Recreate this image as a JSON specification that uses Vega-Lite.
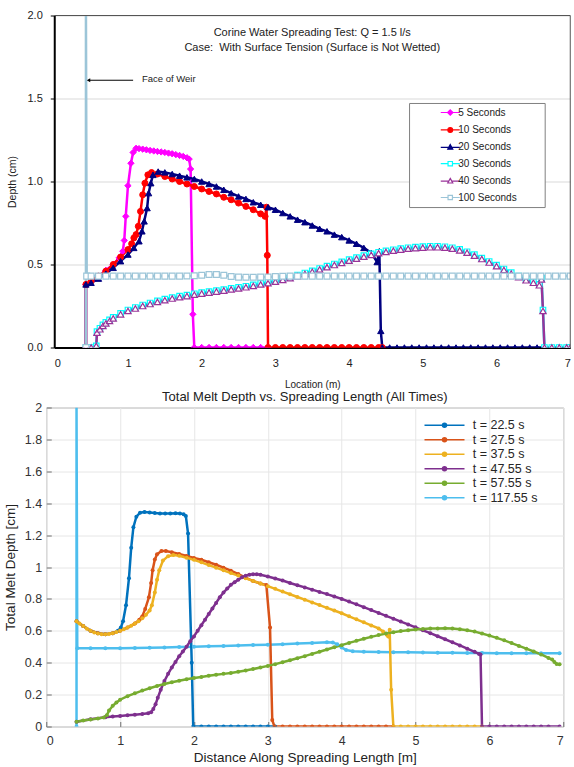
{
"$schema": "https://vega.github.io/schema/vega-lite/v6.json",
"background": "white",
"padding": {"left": 3.25, "top": 9.5, "right": 0, "bottom": 0},
"config": {"font": "Liberation Sans", "view": {"stroke": null}, "axis": {"labelFont": "Liberation Sans", "titleFont": "Liberation Sans", "titleFontWeight": "normal", "labelOverlap": false}, "title": {"font": "Liberation Sans", "fontWeight": "normal"}, "legend": {"labelFont": "Liberation Sans", "titleFont": "Liberation Sans"}},
"columns": 1,
"spacing": 0,
"resolve": {"scale": {"x": "independent", "y": "independent", "stroke": "independent", "fill": "independent", "shape": "independent"}, "legend": {"stroke": "independent", "fill": "independent", "shape": "independent"}},
"datasets": {
"top": [
{"s":"5 Seconds","x":0.43,"y":0},{"s":"5 Seconds","x":0.43,"y":0.38},{"s":"5 Seconds","x":0.5,"y":0.4},{"s":"5 Seconds","x":0.6,"y":0.43},{"s":"5 Seconds","x":0.7,"y":0.465},{"s":"5 Seconds","x":0.8,"y":0.5},{"s":"5 Seconds","x":0.88,"y":0.54},{"s":"5 Seconds","x":0.93,"y":0.58},{"s":"5 Seconds","x":0.95,"y":0.645},{"s":"5 Seconds","x":0.97,"y":0.79},{"s":"5 Seconds","x":1.0,"y":0.975},{"s":"5 Seconds","x":1.04,"y":1.11},{"s":"5 Seconds","x":1.07,"y":1.175},{"s":"5 Seconds","x":1.11,"y":1.2},{"s":"5 Seconds","x":1.15,"y":1.198},{"s":"5 Seconds","x":1.2,"y":1.195},{"s":"5 Seconds","x":1.25,"y":1.191},{"s":"5 Seconds","x":1.3,"y":1.187},{"s":"5 Seconds","x":1.35,"y":1.184},{"s":"5 Seconds","x":1.4,"y":1.181},{"s":"5 Seconds","x":1.45,"y":1.178},{"s":"5 Seconds","x":1.5,"y":1.175},{"s":"5 Seconds","x":1.55,"y":1.171},{"s":"5 Seconds","x":1.6,"y":1.167},{"s":"5 Seconds","x":1.65,"y":1.162},{"s":"5 Seconds","x":1.7,"y":1.157},{"s":"5 Seconds","x":1.75,"y":1.151},{"s":"5 Seconds","x":1.8,"y":1.143},{"s":"5 Seconds","x":1.83,"y":1.135},{"s":"5 Seconds","x":1.85,"y":1.075},{"s":"5 Seconds","x":1.88,"y":0.2},{"s":"5 Seconds","x":1.9,"y":0},{"s":"5 Seconds","x":2.0,"y":0},{"s":"5 Seconds","x":2.1,"y":0},{"s":"5 Seconds","x":2.2,"y":0},{"s":"5 Seconds","x":2.3,"y":0},{"s":"5 Seconds","x":2.4,"y":0},{"s":"5 Seconds","x":2.5,"y":0},{"s":"5 Seconds","x":2.6,"y":0},{"s":"5 Seconds","x":2.7,"y":0},{"s":"5 Seconds","x":2.8,"y":0},{"s":"5 Seconds","x":2.9,"y":0},
{"s":"10 Seconds","x":0.43,"y":0},{"s":"10 Seconds","x":0.43,"y":0.38},{"s":"10 Seconds","x":0.5,"y":0.4},{"s":"10 Seconds","x":0.6,"y":0.43},{"s":"10 Seconds","x":0.7,"y":0.46},{"s":"10 Seconds","x":0.8,"y":0.5},{"s":"10 Seconds","x":0.9,"y":0.545},{"s":"10 Seconds","x":1.0,"y":0.59},{"s":"10 Seconds","x":1.05,"y":0.625},{"s":"10 Seconds","x":1.08,"y":0.66},{"s":"10 Seconds","x":1.11,"y":0.68},{"s":"10 Seconds","x":1.14,"y":0.73},{"s":"10 Seconds","x":1.17,"y":0.82},{"s":"10 Seconds","x":1.2,"y":0.92},{"s":"10 Seconds","x":1.23,"y":0.99},{"s":"10 Seconds","x":1.27,"y":1.04},{"s":"10 Seconds","x":1.32,"y":1.054},{"s":"10 Seconds","x":1.4,"y":1.045},{"s":"10 Seconds","x":1.5,"y":1.03},{"s":"10 Seconds","x":1.6,"y":1.015},{"s":"10 Seconds","x":1.7,"y":1.0},{"s":"10 Seconds","x":1.8,"y":0.985},{"s":"10 Seconds","x":1.9,"y":0.97},{"s":"10 Seconds","x":2.0,"y":0.955},{"s":"10 Seconds","x":2.1,"y":0.94},{"s":"10 Seconds","x":2.2,"y":0.925},{"s":"10 Seconds","x":2.3,"y":0.905},{"s":"10 Seconds","x":2.4,"y":0.89},{"s":"10 Seconds","x":2.5,"y":0.87},{"s":"10 Seconds","x":2.6,"y":0.85},{"s":"10 Seconds","x":2.7,"y":0.83},{"s":"10 Seconds","x":2.8,"y":0.805},{"s":"10 Seconds","x":2.86,"y":0.79},{"s":"10 Seconds","x":2.88,"y":0.845},{"s":"10 Seconds","x":2.89,"y":0.555},{"s":"10 Seconds","x":2.9,"y":0},{"s":"10 Seconds","x":3.0,"y":0},{"s":"10 Seconds","x":3.1,"y":0},{"s":"10 Seconds","x":3.2,"y":0},{"s":"10 Seconds","x":3.3,"y":0},{"s":"10 Seconds","x":3.4,"y":0},{"s":"10 Seconds","x":3.5,"y":0},{"s":"10 Seconds","x":3.6,"y":0},{"s":"10 Seconds","x":3.7,"y":0},{"s":"10 Seconds","x":3.8,"y":0},{"s":"10 Seconds","x":3.9,"y":0},{"s":"10 Seconds","x":4.0,"y":0},{"s":"10 Seconds","x":4.1,"y":0},{"s":"10 Seconds","x":4.2,"y":0},{"s":"10 Seconds","x":4.3,"y":0},{"s":"10 Seconds","x":4.4,"y":0},{"s":"10 Seconds","x":4.45,"y":0},
{"s":"20 Seconds","x":0.43,"y":0},{"s":"20 Seconds","x":0.43,"y":0.38},{"s":"20 Seconds","x":0.5,"y":0.39},{"s":"20 Seconds","x":0.6,"y":0.415},{"s":"20 Seconds","x":0.7,"y":0.445},{"s":"20 Seconds","x":0.8,"y":0.48},{"s":"20 Seconds","x":0.9,"y":0.52},{"s":"20 Seconds","x":1.0,"y":0.56},{"s":"20 Seconds","x":1.08,"y":0.6},{"s":"20 Seconds","x":1.15,"y":0.64},{"s":"20 Seconds","x":1.19,"y":0.7},{"s":"20 Seconds","x":1.22,"y":0.76},{"s":"20 Seconds","x":1.26,"y":0.84},{"s":"20 Seconds","x":1.28,"y":0.93},{"s":"20 Seconds","x":1.31,"y":0.99},{"s":"20 Seconds","x":1.34,"y":1.04},{"s":"20 Seconds","x":1.41,"y":1.06},{"s":"20 Seconds","x":1.5,"y":1.055},{"s":"20 Seconds","x":1.6,"y":1.045},{"s":"20 Seconds","x":1.7,"y":1.035},{"s":"20 Seconds","x":1.8,"y":1.025},{"s":"20 Seconds","x":1.9,"y":1.015},{"s":"20 Seconds","x":2.0,"y":1.0},{"s":"20 Seconds","x":2.1,"y":0.985},{"s":"20 Seconds","x":2.2,"y":0.97},{"s":"20 Seconds","x":2.3,"y":0.95},{"s":"20 Seconds","x":2.4,"y":0.93},{"s":"20 Seconds","x":2.5,"y":0.91},{"s":"20 Seconds","x":2.6,"y":0.895},{"s":"20 Seconds","x":2.7,"y":0.875},{"s":"20 Seconds","x":2.8,"y":0.86},{"s":"20 Seconds","x":2.9,"y":0.845},{"s":"20 Seconds","x":3.0,"y":0.83},{"s":"20 Seconds","x":3.1,"y":0.81},{"s":"20 Seconds","x":3.2,"y":0.79},{"s":"20 Seconds","x":3.3,"y":0.77},{"s":"20 Seconds","x":3.4,"y":0.755},{"s":"20 Seconds","x":3.5,"y":0.735},{"s":"20 Seconds","x":3.6,"y":0.715},{"s":"20 Seconds","x":3.7,"y":0.7},{"s":"20 Seconds","x":3.8,"y":0.68},{"s":"20 Seconds","x":3.9,"y":0.665},{"s":"20 Seconds","x":4.0,"y":0.645},{"s":"20 Seconds","x":4.1,"y":0.625},{"s":"20 Seconds","x":4.2,"y":0.6},{"s":"20 Seconds","x":4.3,"y":0.57},{"s":"20 Seconds","x":4.38,"y":0.515},{"s":"20 Seconds","x":4.41,"y":0.58},{"s":"20 Seconds","x":4.43,"y":0.1},{"s":"20 Seconds","x":4.45,"y":0},{"s":"20 Seconds","x":4.55,"y":0},{"s":"20 Seconds","x":4.65,"y":0},{"s":"20 Seconds","x":4.75,"y":0},{"s":"20 Seconds","x":4.85,"y":0},{"s":"20 Seconds","x":4.95,"y":0},{"s":"20 Seconds","x":5.05,"y":0},{"s":"20 Seconds","x":5.15,"y":0},{"s":"20 Seconds","x":5.25,"y":0},{"s":"20 Seconds","x":5.35,"y":0},{"s":"20 Seconds","x":5.45,"y":0},{"s":"20 Seconds","x":5.55,"y":0},{"s":"20 Seconds","x":5.65,"y":0},{"s":"20 Seconds","x":5.75,"y":0},{"s":"20 Seconds","x":5.85,"y":0},{"s":"20 Seconds","x":5.95,"y":0},{"s":"20 Seconds","x":6.05,"y":0},{"s":"20 Seconds","x":6.15,"y":0},{"s":"20 Seconds","x":6.25,"y":0},{"s":"20 Seconds","x":6.35,"y":0},{"s":"20 Seconds","x":6.45,"y":0},{"s":"20 Seconds","x":6.55,"y":0},{"s":"20 Seconds","x":6.65,"y":0},
{"s":"30 Seconds","x":0.43,"y":0},{"s":"30 Seconds","x":0.5,"y":0},{"s":"30 Seconds","x":0.57,"y":0.01},{"s":"30 Seconds","x":0.58,"y":0.096},{"s":"30 Seconds","x":0.62,"y":0.116},{"s":"30 Seconds","x":0.66,"y":0.136},{"s":"30 Seconds","x":0.7,"y":0.151},{"s":"30 Seconds","x":0.75,"y":0.166},{"s":"30 Seconds","x":0.8,"y":0.181},{"s":"30 Seconds","x":0.9,"y":0.206},{"s":"30 Seconds","x":1.0,"y":0.226},{"s":"30 Seconds","x":1.1,"y":0.241},{"s":"30 Seconds","x":1.2,"y":0.256},{"s":"30 Seconds","x":1.3,"y":0.268},{"s":"30 Seconds","x":1.4,"y":0.281},{"s":"30 Seconds","x":1.5,"y":0.291},{"s":"30 Seconds","x":1.6,"y":0.301},{"s":"30 Seconds","x":1.7,"y":0.309},{"s":"30 Seconds","x":1.8,"y":0.316},{"s":"30 Seconds","x":1.9,"y":0.324},{"s":"30 Seconds","x":2.0,"y":0.331},{"s":"30 Seconds","x":2.1,"y":0.337},{"s":"30 Seconds","x":2.2,"y":0.343},{"s":"30 Seconds","x":2.3,"y":0.349},{"s":"30 Seconds","x":2.4,"y":0.356},{"s":"30 Seconds","x":2.5,"y":0.362},{"s":"30 Seconds","x":2.6,"y":0.369},{"s":"30 Seconds","x":2.7,"y":0.377},{"s":"30 Seconds","x":2.8,"y":0.386},{"s":"30 Seconds","x":2.9,"y":0.394},{"s":"30 Seconds","x":3.0,"y":0.403},{"s":"30 Seconds","x":3.1,"y":0.413},{"s":"30 Seconds","x":3.2,"y":0.424},{"s":"30 Seconds","x":3.3,"y":0.436},{"s":"30 Seconds","x":3.4,"y":0.449},{"s":"30 Seconds","x":3.5,"y":0.462},{"s":"30 Seconds","x":3.6,"y":0.476},{"s":"30 Seconds","x":3.7,"y":0.49},{"s":"30 Seconds","x":3.8,"y":0.503},{"s":"30 Seconds","x":3.9,"y":0.516},{"s":"30 Seconds","x":4.0,"y":0.529},{"s":"30 Seconds","x":4.1,"y":0.541},{"s":"30 Seconds","x":4.2,"y":0.553},{"s":"30 Seconds","x":4.3,"y":0.564},{"s":"30 Seconds","x":4.4,"y":0.574},{"s":"30 Seconds","x":4.5,"y":0.582},{"s":"30 Seconds","x":4.6,"y":0.589},{"s":"30 Seconds","x":4.7,"y":0.596},{"s":"30 Seconds","x":4.8,"y":0.601},{"s":"30 Seconds","x":4.9,"y":0.605},{"s":"30 Seconds","x":5.0,"y":0.608},{"s":"30 Seconds","x":5.1,"y":0.61},{"s":"30 Seconds","x":5.2,"y":0.61},{"s":"30 Seconds","x":5.3,"y":0.607},{"s":"30 Seconds","x":5.4,"y":0.601},{"s":"30 Seconds","x":5.5,"y":0.591},{"s":"30 Seconds","x":5.6,"y":0.577},{"s":"30 Seconds","x":5.7,"y":0.559},{"s":"30 Seconds","x":5.8,"y":0.539},{"s":"30 Seconds","x":5.9,"y":0.518},{"s":"30 Seconds","x":6.0,"y":0.496},{"s":"30 Seconds","x":6.1,"y":0.473},{"s":"30 Seconds","x":6.2,"y":0.451},{"s":"30 Seconds","x":6.3,"y":0.43},{"s":"30 Seconds","x":6.4,"y":0.411},{"s":"30 Seconds","x":6.5,"y":0.396},{"s":"30 Seconds","x":6.58,"y":0.381},{"s":"30 Seconds","x":6.61,"y":0.416},{"s":"30 Seconds","x":6.63,"y":0.226},{"s":"30 Seconds","x":6.65,"y":0},{"s":"30 Seconds","x":6.75,"y":0},{"s":"30 Seconds","x":6.85,"y":0},{"s":"30 Seconds","x":6.95,"y":0},{"s":"30 Seconds","x":7.0,"y":0},
{"s":"40 Seconds","x":0.43,"y":0},{"s":"40 Seconds","x":0.5,"y":0},{"s":"40 Seconds","x":0.57,"y":0.01},{"s":"40 Seconds","x":0.58,"y":0.09},{"s":"40 Seconds","x":0.62,"y":0.11},{"s":"40 Seconds","x":0.66,"y":0.13},{"s":"40 Seconds","x":0.7,"y":0.145},{"s":"40 Seconds","x":0.75,"y":0.16},{"s":"40 Seconds","x":0.8,"y":0.175},{"s":"40 Seconds","x":0.9,"y":0.2},{"s":"40 Seconds","x":1.0,"y":0.22},{"s":"40 Seconds","x":1.1,"y":0.235},{"s":"40 Seconds","x":1.2,"y":0.25},{"s":"40 Seconds","x":1.3,"y":0.262},{"s":"40 Seconds","x":1.4,"y":0.275},{"s":"40 Seconds","x":1.5,"y":0.285},{"s":"40 Seconds","x":1.6,"y":0.295},{"s":"40 Seconds","x":1.7,"y":0.303},{"s":"40 Seconds","x":1.8,"y":0.31},{"s":"40 Seconds","x":1.9,"y":0.318},{"s":"40 Seconds","x":2.0,"y":0.325},{"s":"40 Seconds","x":2.1,"y":0.331},{"s":"40 Seconds","x":2.2,"y":0.337},{"s":"40 Seconds","x":2.3,"y":0.343},{"s":"40 Seconds","x":2.4,"y":0.35},{"s":"40 Seconds","x":2.5,"y":0.356},{"s":"40 Seconds","x":2.6,"y":0.363},{"s":"40 Seconds","x":2.7,"y":0.371},{"s":"40 Seconds","x":2.8,"y":0.38},{"s":"40 Seconds","x":2.9,"y":0.388},{"s":"40 Seconds","x":3.0,"y":0.397},{"s":"40 Seconds","x":3.1,"y":0.407},{"s":"40 Seconds","x":3.2,"y":0.418},{"s":"40 Seconds","x":3.3,"y":0.43},{"s":"40 Seconds","x":3.4,"y":0.443},{"s":"40 Seconds","x":3.5,"y":0.456},{"s":"40 Seconds","x":3.6,"y":0.47},{"s":"40 Seconds","x":3.7,"y":0.484},{"s":"40 Seconds","x":3.8,"y":0.497},{"s":"40 Seconds","x":3.9,"y":0.51},{"s":"40 Seconds","x":4.0,"y":0.523},{"s":"40 Seconds","x":4.1,"y":0.535},{"s":"40 Seconds","x":4.2,"y":0.547},{"s":"40 Seconds","x":4.3,"y":0.558},{"s":"40 Seconds","x":4.4,"y":0.568},{"s":"40 Seconds","x":4.5,"y":0.576},{"s":"40 Seconds","x":4.6,"y":0.583},{"s":"40 Seconds","x":4.7,"y":0.59},{"s":"40 Seconds","x":4.8,"y":0.595},{"s":"40 Seconds","x":4.9,"y":0.599},{"s":"40 Seconds","x":5.0,"y":0.602},{"s":"40 Seconds","x":5.1,"y":0.604},{"s":"40 Seconds","x":5.2,"y":0.604},{"s":"40 Seconds","x":5.3,"y":0.601},{"s":"40 Seconds","x":5.4,"y":0.595},{"s":"40 Seconds","x":5.5,"y":0.585},{"s":"40 Seconds","x":5.6,"y":0.571},{"s":"40 Seconds","x":5.7,"y":0.553},{"s":"40 Seconds","x":5.8,"y":0.533},{"s":"40 Seconds","x":5.9,"y":0.512},{"s":"40 Seconds","x":6.0,"y":0.49},{"s":"40 Seconds","x":6.1,"y":0.467},{"s":"40 Seconds","x":6.2,"y":0.445},{"s":"40 Seconds","x":6.3,"y":0.424},{"s":"40 Seconds","x":6.4,"y":0.405},{"s":"40 Seconds","x":6.5,"y":0.39},{"s":"40 Seconds","x":6.58,"y":0.375},{"s":"40 Seconds","x":6.61,"y":0.41},{"s":"40 Seconds","x":6.63,"y":0.22},{"s":"40 Seconds","x":6.65,"y":0},{"s":"40 Seconds","x":6.75,"y":0},{"s":"40 Seconds","x":6.85,"y":0},{"s":"40 Seconds","x":6.95,"y":0},{"s":"40 Seconds","x":7.0,"y":0},
{"s":"100 Seconds","x":0.43,"y":0},{"s":"100 Seconds","x":0.43,"y":2.0},{"s":"100 Seconds","x":0.44,"y":0.43},{"s":"100 Seconds","x":0.5,"y":0.43},{"s":"100 Seconds","x":0.6,"y":0.43},{"s":"100 Seconds","x":0.7,"y":0.43},{"s":"100 Seconds","x":0.8,"y":0.43},{"s":"100 Seconds","x":0.9,"y":0.43},{"s":"100 Seconds","x":1.0,"y":0.43},{"s":"100 Seconds","x":1.1,"y":0.43},{"s":"100 Seconds","x":1.2,"y":0.43},{"s":"100 Seconds","x":1.3,"y":0.43},{"s":"100 Seconds","x":1.4,"y":0.43},{"s":"100 Seconds","x":1.5,"y":0.43},{"s":"100 Seconds","x":1.6,"y":0.43},{"s":"100 Seconds","x":1.7,"y":0.43},{"s":"100 Seconds","x":1.8,"y":0.431},{"s":"100 Seconds","x":1.9,"y":0.432},{"s":"100 Seconds","x":2.0,"y":0.435},{"s":"100 Seconds","x":2.1,"y":0.44},{"s":"100 Seconds","x":2.2,"y":0.44},{"s":"100 Seconds","x":2.3,"y":0.435},{"s":"100 Seconds","x":2.4,"y":0.428},{"s":"100 Seconds","x":2.5,"y":0.424},{"s":"100 Seconds","x":2.6,"y":0.423},{"s":"100 Seconds","x":2.7,"y":0.423},{"s":"100 Seconds","x":2.8,"y":0.424},{"s":"100 Seconds","x":2.9,"y":0.425},{"s":"100 Seconds","x":3.0,"y":0.427},{"s":"100 Seconds","x":3.1,"y":0.429},{"s":"100 Seconds","x":3.2,"y":0.43},{"s":"100 Seconds","x":3.3,"y":0.43},{"s":"100 Seconds","x":3.4,"y":0.43},{"s":"100 Seconds","x":3.5,"y":0.43},{"s":"100 Seconds","x":3.6,"y":0.43},{"s":"100 Seconds","x":3.7,"y":0.43},{"s":"100 Seconds","x":3.8,"y":0.43},{"s":"100 Seconds","x":3.9,"y":0.43},{"s":"100 Seconds","x":4.0,"y":0.43},{"s":"100 Seconds","x":4.1,"y":0.43},{"s":"100 Seconds","x":4.2,"y":0.43},{"s":"100 Seconds","x":4.3,"y":0.43},{"s":"100 Seconds","x":4.4,"y":0.43},{"s":"100 Seconds","x":4.5,"y":0.43},{"s":"100 Seconds","x":4.6,"y":0.43},{"s":"100 Seconds","x":4.7,"y":0.43},{"s":"100 Seconds","x":4.8,"y":0.43},{"s":"100 Seconds","x":4.9,"y":0.43},{"s":"100 Seconds","x":5.0,"y":0.43},{"s":"100 Seconds","x":5.1,"y":0.43},{"s":"100 Seconds","x":5.2,"y":0.43},{"s":"100 Seconds","x":5.3,"y":0.43},{"s":"100 Seconds","x":5.4,"y":0.43},{"s":"100 Seconds","x":5.5,"y":0.43},{"s":"100 Seconds","x":5.6,"y":0.43},{"s":"100 Seconds","x":5.7,"y":0.43},{"s":"100 Seconds","x":5.8,"y":0.43},{"s":"100 Seconds","x":5.9,"y":0.43},{"s":"100 Seconds","x":6.0,"y":0.43},{"s":"100 Seconds","x":6.1,"y":0.43},{"s":"100 Seconds","x":6.2,"y":0.43},{"s":"100 Seconds","x":6.3,"y":0.43},{"s":"100 Seconds","x":6.4,"y":0.43},{"s":"100 Seconds","x":6.5,"y":0.43},{"s":"100 Seconds","x":6.6,"y":0.43},{"s":"100 Seconds","x":6.7,"y":0.43},{"s":"100 Seconds","x":6.8,"y":0.43},{"s":"100 Seconds","x":6.9,"y":0.43},{"s":"100 Seconds","x":7.0,"y":0.43}
],
"bot": [
{"s":"t = 117.55 s","x":0.41,"y":0},{"s":"t = 117.55 s","x":0.41,"y":2.0},{"s":"t = 117.55 s","x":0.42,"y":0.49},{"s":"t = 117.55 s","x":0.6,"y":0.49},{"s":"t = 117.55 s","x":0.8,"y":0.49},{"s":"t = 117.55 s","x":1.0,"y":0.491},{"s":"t = 117.55 s","x":1.2,"y":0.492},{"s":"t = 117.55 s","x":1.4,"y":0.494},{"s":"t = 117.55 s","x":1.6,"y":0.496},{"s":"t = 117.55 s","x":1.8,"y":0.498},{"s":"t = 117.55 s","x":2.0,"y":0.5},{"s":"t = 117.55 s","x":2.2,"y":0.503},{"s":"t = 117.55 s","x":2.4,"y":0.505},{"s":"t = 117.55 s","x":2.6,"y":0.508},{"s":"t = 117.55 s","x":2.8,"y":0.511},{"s":"t = 117.55 s","x":3.0,"y":0.513},{"s":"t = 117.55 s","x":3.2,"y":0.516},{"s":"t = 117.55 s","x":3.4,"y":0.52},{"s":"t = 117.55 s","x":3.6,"y":0.524},{"s":"t = 117.55 s","x":3.8,"y":0.528},{"s":"t = 117.55 s","x":3.88,"y":0.527},{"s":"t = 117.55 s","x":3.94,"y":0.515},{"s":"t = 117.55 s","x":4.0,"y":0.495},{"s":"t = 117.55 s","x":4.06,"y":0.48},{"s":"t = 117.55 s","x":4.15,"y":0.472},{"s":"t = 117.55 s","x":4.3,"y":0.469},{"s":"t = 117.55 s","x":4.5,"y":0.467},{"s":"t = 117.55 s","x":4.7,"y":0.466},{"s":"t = 117.55 s","x":4.9,"y":0.465},{"s":"t = 117.55 s","x":5.1,"y":0.464},{"s":"t = 117.55 s","x":5.3,"y":0.463},{"s":"t = 117.55 s","x":5.5,"y":0.462},{"s":"t = 117.55 s","x":5.7,"y":0.461},{"s":"t = 117.55 s","x":5.9,"y":0.461},{"s":"t = 117.55 s","x":6.1,"y":0.46},{"s":"t = 117.55 s","x":6.3,"y":0.46},{"s":"t = 117.55 s","x":6.5,"y":0.46},{"s":"t = 117.55 s","x":6.7,"y":0.459},{"s":"t = 117.55 s","x":6.95,"y":0.459},
{"s":"t = 22.5 s","x":0.41,"y":0.66},{"s":"t = 22.5 s","x":0.5,"y":0.63},{"s":"t = 22.5 s","x":0.6,"y":0.6},{"s":"t = 22.5 s","x":0.7,"y":0.585},{"s":"t = 22.5 s","x":0.8,"y":0.578},{"s":"t = 22.5 s","x":0.9,"y":0.585},{"s":"t = 22.5 s","x":0.97,"y":0.6},{"s":"t = 22.5 s","x":1.01,"y":0.62},{"s":"t = 22.5 s","x":1.04,"y":0.66},{"s":"t = 22.5 s","x":1.08,"y":0.76},{"s":"t = 22.5 s","x":1.12,"y":0.93},{"s":"t = 22.5 s","x":1.15,"y":1.12},{"s":"t = 22.5 s","x":1.18,"y":1.25},{"s":"t = 22.5 s","x":1.22,"y":1.315},{"s":"t = 22.5 s","x":1.27,"y":1.34},{"s":"t = 22.5 s","x":1.33,"y":1.345},{"s":"t = 22.5 s","x":1.4,"y":1.342},{"s":"t = 22.5 s","x":1.47,"y":1.338},{"s":"t = 22.5 s","x":1.54,"y":1.335},{"s":"t = 22.5 s","x":1.61,"y":1.335},{"s":"t = 22.5 s","x":1.68,"y":1.336},{"s":"t = 22.5 s","x":1.75,"y":1.337},{"s":"t = 22.5 s","x":1.81,"y":1.336},{"s":"t = 22.5 s","x":1.86,"y":1.33},{"s":"t = 22.5 s","x":1.89,"y":1.32},{"s":"t = 22.5 s","x":1.92,"y":1.21},{"s":"t = 22.5 s","x":1.97,"y":0.4},{"s":"t = 22.5 s","x":1.99,"y":0},{"s":"t = 22.5 s","x":2.1,"y":0},{"s":"t = 22.5 s","x":2.2,"y":0},{"s":"t = 22.5 s","x":2.3,"y":0},{"s":"t = 22.5 s","x":2.4,"y":0},{"s":"t = 22.5 s","x":2.5,"y":0},{"s":"t = 22.5 s","x":2.6,"y":0},{"s":"t = 22.5 s","x":2.7,"y":0},{"s":"t = 22.5 s","x":2.8,"y":0},{"s":"t = 22.5 s","x":2.9,"y":0},{"s":"t = 22.5 s","x":3.0,"y":0},{"s":"t = 22.5 s","x":3.1,"y":0},
{"s":"t = 27.5 s","x":0.41,"y":0.66},{"s":"t = 27.5 s","x":0.5,"y":0.63},{"s":"t = 27.5 s","x":0.6,"y":0.6},{"s":"t = 27.5 s","x":0.7,"y":0.585},{"s":"t = 27.5 s","x":0.8,"y":0.578},{"s":"t = 27.5 s","x":0.9,"y":0.585},{"s":"t = 27.5 s","x":1.0,"y":0.6},{"s":"t = 27.5 s","x":1.1,"y":0.62},{"s":"t = 27.5 s","x":1.2,"y":0.645},{"s":"t = 27.5 s","x":1.26,"y":0.67},{"s":"t = 27.5 s","x":1.3,"y":0.69},{"s":"t = 27.5 s","x":1.34,"y":0.737},{"s":"t = 27.5 s","x":1.39,"y":0.81},{"s":"t = 27.5 s","x":1.42,"y":0.9},{"s":"t = 27.5 s","x":1.44,"y":0.98},{"s":"t = 27.5 s","x":1.47,"y":1.047},{"s":"t = 27.5 s","x":1.5,"y":1.08},{"s":"t = 27.5 s","x":1.56,"y":1.1},{"s":"t = 27.5 s","x":1.62,"y":1.1},{"s":"t = 27.5 s","x":1.7,"y":1.092},{"s":"t = 27.5 s","x":1.8,"y":1.081},{"s":"t = 27.5 s","x":1.9,"y":1.069},{"s":"t = 27.5 s","x":2.0,"y":1.057},{"s":"t = 27.5 s","x":2.1,"y":1.045},{"s":"t = 27.5 s","x":2.2,"y":1.03},{"s":"t = 27.5 s","x":2.3,"y":1.014},{"s":"t = 27.5 s","x":2.4,"y":0.996},{"s":"t = 27.5 s","x":2.5,"y":0.977},{"s":"t = 27.5 s","x":2.6,"y":0.956},{"s":"t = 27.5 s","x":2.7,"y":0.933},{"s":"t = 27.5 s","x":2.8,"y":0.912},{"s":"t = 27.5 s","x":2.9,"y":0.897},{"s":"t = 27.5 s","x":2.98,"y":0.887},{"s":"t = 27.5 s","x":3.03,"y":0.62},{"s":"t = 27.5 s","x":3.06,"y":0.04},{"s":"t = 27.5 s","x":3.09,"y":0},{"s":"t = 27.5 s","x":3.2,"y":0},{"s":"t = 27.5 s","x":3.3,"y":0},{"s":"t = 27.5 s","x":3.4,"y":0},{"s":"t = 27.5 s","x":3.5,"y":0},{"s":"t = 27.5 s","x":3.6,"y":0},{"s":"t = 27.5 s","x":3.7,"y":0},{"s":"t = 27.5 s","x":3.8,"y":0},{"s":"t = 27.5 s","x":3.9,"y":0},{"s":"t = 27.5 s","x":4.0,"y":0},{"s":"t = 27.5 s","x":4.1,"y":0},{"s":"t = 27.5 s","x":4.2,"y":0},{"s":"t = 27.5 s","x":4.3,"y":0},{"s":"t = 27.5 s","x":4.4,"y":0},{"s":"t = 27.5 s","x":4.5,"y":0},{"s":"t = 27.5 s","x":4.6,"y":0},{"s":"t = 27.5 s","x":4.7,"y":0},
{"s":"t = 37.5 s","x":0.41,"y":0.66},{"s":"t = 37.5 s","x":0.45,"y":0.645},{"s":"t = 37.5 s","x":0.5,"y":0.63},{"s":"t = 37.5 s","x":0.55,"y":0.613},{"s":"t = 37.5 s","x":0.6,"y":0.6},{"s":"t = 37.5 s","x":0.65,"y":0.59},{"s":"t = 37.5 s","x":0.7,"y":0.583},{"s":"t = 37.5 s","x":0.75,"y":0.579},{"s":"t = 37.5 s","x":0.8,"y":0.578},{"s":"t = 37.5 s","x":0.85,"y":0.58},{"s":"t = 37.5 s","x":0.9,"y":0.585},{"s":"t = 37.5 s","x":0.95,"y":0.592},{"s":"t = 37.5 s","x":1.0,"y":0.6},{"s":"t = 37.5 s","x":1.05,"y":0.61},{"s":"t = 37.5 s","x":1.1,"y":0.62},{"s":"t = 37.5 s","x":1.15,"y":0.632},{"s":"t = 37.5 s","x":1.2,"y":0.645},{"s":"t = 37.5 s","x":1.25,"y":0.66},{"s":"t = 37.5 s","x":1.3,"y":0.678},{"s":"t = 37.5 s","x":1.35,"y":0.7},{"s":"t = 37.5 s","x":1.4,"y":0.728},{"s":"t = 37.5 s","x":1.43,"y":0.76},{"s":"t = 37.5 s","x":1.47,"y":0.84},{"s":"t = 37.5 s","x":1.5,"y":0.92},{"s":"t = 37.5 s","x":1.53,"y":0.98},{"s":"t = 37.5 s","x":1.58,"y":1.04},{"s":"t = 37.5 s","x":1.65,"y":1.068},{"s":"t = 37.5 s","x":1.72,"y":1.075},{"s":"t = 37.5 s","x":1.8,"y":1.07},{"s":"t = 37.5 s","x":1.9,"y":1.058},{"s":"t = 37.5 s","x":2.0,"y":1.045},{"s":"t = 37.5 s","x":2.1,"y":1.029},{"s":"t = 37.5 s","x":2.2,"y":1.012},{"s":"t = 37.5 s","x":2.3,"y":0.996},{"s":"t = 37.5 s","x":2.4,"y":0.979},{"s":"t = 37.5 s","x":2.5,"y":0.962},{"s":"t = 37.5 s","x":2.6,"y":0.946},{"s":"t = 37.5 s","x":2.7,"y":0.929},{"s":"t = 37.5 s","x":2.8,"y":0.913},{"s":"t = 37.5 s","x":2.9,"y":0.896},{"s":"t = 37.5 s","x":3.0,"y":0.88},{"s":"t = 37.5 s","x":3.1,"y":0.863},{"s":"t = 37.5 s","x":3.2,"y":0.846},{"s":"t = 37.5 s","x":3.3,"y":0.829},{"s":"t = 37.5 s","x":3.4,"y":0.812},{"s":"t = 37.5 s","x":3.5,"y":0.795},{"s":"t = 37.5 s","x":3.6,"y":0.778},{"s":"t = 37.5 s","x":3.7,"y":0.761},{"s":"t = 37.5 s","x":3.8,"y":0.744},{"s":"t = 37.5 s","x":3.9,"y":0.727},{"s":"t = 37.5 s","x":4.0,"y":0.71},{"s":"t = 37.5 s","x":4.1,"y":0.691},{"s":"t = 37.5 s","x":4.2,"y":0.672},{"s":"t = 37.5 s","x":4.3,"y":0.653},{"s":"t = 37.5 s","x":4.4,"y":0.634},{"s":"t = 37.5 s","x":4.5,"y":0.615},{"s":"t = 37.5 s","x":4.56,"y":0.595},{"s":"t = 37.5 s","x":4.61,"y":0.575},{"s":"t = 37.5 s","x":4.63,"y":0.565},{"s":"t = 37.5 s","x":4.65,"y":0.607},{"s":"t = 37.5 s","x":4.67,"y":0.23},{"s":"t = 37.5 s","x":4.7,"y":0},{"s":"t = 37.5 s","x":4.8,"y":0},{"s":"t = 37.5 s","x":4.9,"y":0},{"s":"t = 37.5 s","x":5.0,"y":0},{"s":"t = 37.5 s","x":5.1,"y":0},{"s":"t = 37.5 s","x":5.2,"y":0},{"s":"t = 37.5 s","x":5.3,"y":0},{"s":"t = 37.5 s","x":5.4,"y":0},{"s":"t = 37.5 s","x":5.5,"y":0},{"s":"t = 37.5 s","x":5.6,"y":0},{"s":"t = 37.5 s","x":5.7,"y":0},{"s":"t = 37.5 s","x":5.8,"y":0},{"s":"t = 37.5 s","x":5.9,"y":0},
{"s":"t = 47.55 s","x":0.41,"y":0.03},{"s":"t = 47.55 s","x":0.6,"y":0.045},{"s":"t = 47.55 s","x":0.8,"y":0.058},{"s":"t = 47.55 s","x":0.9,"y":0.063},{"s":"t = 47.55 s","x":1.0,"y":0.066},{"s":"t = 47.55 s","x":1.1,"y":0.07},{"s":"t = 47.55 s","x":1.2,"y":0.074},{"s":"t = 47.55 s","x":1.3,"y":0.078},{"s":"t = 47.55 s","x":1.38,"y":0.083},{"s":"t = 47.55 s","x":1.42,"y":0.09},{"s":"t = 47.55 s","x":1.45,"y":0.11},{"s":"t = 47.55 s","x":1.48,"y":0.14},{"s":"t = 47.55 s","x":1.51,"y":0.18},{"s":"t = 47.55 s","x":1.55,"y":0.23},{"s":"t = 47.55 s","x":1.6,"y":0.285},{"s":"t = 47.55 s","x":1.65,"y":0.33},{"s":"t = 47.55 s","x":1.7,"y":0.37},{"s":"t = 47.55 s","x":1.75,"y":0.405},{"s":"t = 47.55 s","x":1.8,"y":0.44},{"s":"t = 47.55 s","x":1.85,"y":0.47},{"s":"t = 47.55 s","x":1.9,"y":0.5},{"s":"t = 47.55 s","x":1.95,"y":0.535},{"s":"t = 47.55 s","x":2.0,"y":0.565},{"s":"t = 47.55 s","x":2.05,"y":0.6},{"s":"t = 47.55 s","x":2.1,"y":0.635},{"s":"t = 47.55 s","x":2.15,"y":0.67},{"s":"t = 47.55 s","x":2.2,"y":0.705},{"s":"t = 47.55 s","x":2.25,"y":0.74},{"s":"t = 47.55 s","x":2.3,"y":0.775},{"s":"t = 47.55 s","x":2.35,"y":0.81},{"s":"t = 47.55 s","x":2.4,"y":0.84},{"s":"t = 47.55 s","x":2.45,"y":0.865},{"s":"t = 47.55 s","x":2.5,"y":0.888},{"s":"t = 47.55 s","x":2.55,"y":0.905},{"s":"t = 47.55 s","x":2.6,"y":0.92},{"s":"t = 47.55 s","x":2.65,"y":0.935},{"s":"t = 47.55 s","x":2.7,"y":0.945},{"s":"t = 47.55 s","x":2.75,"y":0.952},{"s":"t = 47.55 s","x":2.8,"y":0.955},{"s":"t = 47.55 s","x":2.85,"y":0.954},{"s":"t = 47.55 s","x":2.9,"y":0.951},{"s":"t = 47.55 s","x":3.0,"y":0.94},{"s":"t = 47.55 s","x":3.1,"y":0.928},{"s":"t = 47.55 s","x":3.2,"y":0.915},{"s":"t = 47.55 s","x":3.3,"y":0.9},{"s":"t = 47.55 s","x":3.4,"y":0.886},{"s":"t = 47.55 s","x":3.5,"y":0.872},{"s":"t = 47.55 s","x":3.6,"y":0.858},{"s":"t = 47.55 s","x":3.7,"y":0.844},{"s":"t = 47.55 s","x":3.8,"y":0.83},{"s":"t = 47.55 s","x":3.9,"y":0.815},{"s":"t = 47.55 s","x":4.0,"y":0.8},{"s":"t = 47.55 s","x":4.1,"y":0.783},{"s":"t = 47.55 s","x":4.2,"y":0.766},{"s":"t = 47.55 s","x":4.3,"y":0.748},{"s":"t = 47.55 s","x":4.4,"y":0.73},{"s":"t = 47.55 s","x":4.5,"y":0.712},{"s":"t = 47.55 s","x":4.6,"y":0.694},{"s":"t = 47.55 s","x":4.7,"y":0.676},{"s":"t = 47.55 s","x":4.8,"y":0.658},{"s":"t = 47.55 s","x":4.9,"y":0.64},{"s":"t = 47.55 s","x":5.0,"y":0.622},{"s":"t = 47.55 s","x":5.1,"y":0.603},{"s":"t = 47.55 s","x":5.2,"y":0.585},{"s":"t = 47.55 s","x":5.3,"y":0.566},{"s":"t = 47.55 s","x":5.4,"y":0.547},{"s":"t = 47.55 s","x":5.5,"y":0.528},{"s":"t = 47.55 s","x":5.6,"y":0.508},{"s":"t = 47.55 s","x":5.7,"y":0.488},{"s":"t = 47.55 s","x":5.8,"y":0.468},{"s":"t = 47.55 s","x":5.86,"y":0.455},{"s":"t = 47.55 s","x":5.88,"y":0.452},{"s":"t = 47.55 s","x":5.9,"y":0},{"s":"t = 47.55 s","x":6.0,"y":0},{"s":"t = 47.55 s","x":6.1,"y":0},{"s":"t = 47.55 s","x":6.2,"y":0},{"s":"t = 47.55 s","x":6.3,"y":0},{"s":"t = 47.55 s","x":6.4,"y":0},{"s":"t = 47.55 s","x":6.5,"y":0},{"s":"t = 47.55 s","x":6.6,"y":0},{"s":"t = 47.55 s","x":6.7,"y":0},{"s":"t = 47.55 s","x":6.8,"y":0},{"s":"t = 47.55 s","x":6.95,"y":0},
{"s":"t = 57.55 s","x":0.41,"y":0.03},{"s":"t = 57.55 s","x":0.5,"y":0.037},{"s":"t = 57.55 s","x":0.6,"y":0.044},{"s":"t = 57.55 s","x":0.7,"y":0.05},{"s":"t = 57.55 s","x":0.78,"y":0.057},{"s":"t = 57.55 s","x":0.82,"y":0.07},{"s":"t = 57.55 s","x":0.85,"y":0.1},{"s":"t = 57.55 s","x":0.9,"y":0.13},{"s":"t = 57.55 s","x":0.95,"y":0.15},{"s":"t = 57.55 s","x":1.0,"y":0.168},{"s":"t = 57.55 s","x":1.1,"y":0.19},{"s":"t = 57.55 s","x":1.2,"y":0.208},{"s":"t = 57.55 s","x":1.3,"y":0.225},{"s":"t = 57.55 s","x":1.4,"y":0.24},{"s":"t = 57.55 s","x":1.5,"y":0.254},{"s":"t = 57.55 s","x":1.6,"y":0.266},{"s":"t = 57.55 s","x":1.7,"y":0.277},{"s":"t = 57.55 s","x":1.8,"y":0.287},{"s":"t = 57.55 s","x":1.9,"y":0.296},{"s":"t = 57.55 s","x":2.0,"y":0.304},{"s":"t = 57.55 s","x":2.1,"y":0.311},{"s":"t = 57.55 s","x":2.2,"y":0.318},{"s":"t = 57.55 s","x":2.3,"y":0.324},{"s":"t = 57.55 s","x":2.4,"y":0.33},{"s":"t = 57.55 s","x":2.5,"y":0.336},{"s":"t = 57.55 s","x":2.6,"y":0.343},{"s":"t = 57.55 s","x":2.7,"y":0.351},{"s":"t = 57.55 s","x":2.8,"y":0.36},{"s":"t = 57.55 s","x":2.9,"y":0.37},{"s":"t = 57.55 s","x":3.0,"y":0.38},{"s":"t = 57.55 s","x":3.1,"y":0.391},{"s":"t = 57.55 s","x":3.2,"y":0.403},{"s":"t = 57.55 s","x":3.3,"y":0.415},{"s":"t = 57.55 s","x":3.4,"y":0.428},{"s":"t = 57.55 s","x":3.5,"y":0.441},{"s":"t = 57.55 s","x":3.6,"y":0.455},{"s":"t = 57.55 s","x":3.7,"y":0.469},{"s":"t = 57.55 s","x":3.8,"y":0.483},{"s":"t = 57.55 s","x":3.9,"y":0.497},{"s":"t = 57.55 s","x":4.0,"y":0.51},{"s":"t = 57.55 s","x":4.1,"y":0.524},{"s":"t = 57.55 s","x":4.2,"y":0.537},{"s":"t = 57.55 s","x":4.3,"y":0.55},{"s":"t = 57.55 s","x":4.4,"y":0.562},{"s":"t = 57.55 s","x":4.5,"y":0.573},{"s":"t = 57.55 s","x":4.6,"y":0.583},{"s":"t = 57.55 s","x":4.7,"y":0.591},{"s":"t = 57.55 s","x":4.8,"y":0.598},{"s":"t = 57.55 s","x":4.9,"y":0.604},{"s":"t = 57.55 s","x":5.0,"y":0.608},{"s":"t = 57.55 s","x":5.1,"y":0.611},{"s":"t = 57.55 s","x":5.2,"y":0.614},{"s":"t = 57.55 s","x":5.3,"y":0.615},{"s":"t = 57.55 s","x":5.4,"y":0.616},{"s":"t = 57.55 s","x":5.5,"y":0.614},{"s":"t = 57.55 s","x":5.6,"y":0.61},{"s":"t = 57.55 s","x":5.7,"y":0.603},{"s":"t = 57.55 s","x":5.8,"y":0.595},{"s":"t = 57.55 s","x":5.9,"y":0.583},{"s":"t = 57.55 s","x":6.0,"y":0.57},{"s":"t = 57.55 s","x":6.1,"y":0.556},{"s":"t = 57.55 s","x":6.2,"y":0.54},{"s":"t = 57.55 s","x":6.3,"y":0.523},{"s":"t = 57.55 s","x":6.4,"y":0.505},{"s":"t = 57.55 s","x":6.5,"y":0.488},{"s":"t = 57.55 s","x":6.6,"y":0.47},{"s":"t = 57.55 s","x":6.7,"y":0.452},{"s":"t = 57.55 s","x":6.8,"y":0.43},{"s":"t = 57.55 s","x":6.85,"y":0.42},{"s":"t = 57.55 s","x":6.88,"y":0.405},{"s":"t = 57.55 s","x":6.91,"y":0.392},{"s":"t = 57.55 s","x":6.95,"y":0.39}
]
},
"concat": [
{
"width": 524, "height": 332,
"view": {"stroke": null},
"title": {"text": ["Corine Water Spreading Test: Q = 1.5 l/s", "Case: \u00a0With Surface Tension (Surface is Not Wetted)"], "fontSize": 11, "color": "#222222", "baseline": "top", "offset": -43, "lineHeight": 14.5, "anchor": "middle", "frame": "group", "dx": 4},
"data": {"name": "top"},
"layer": [
{"mark": {"type": "point", "opacity": 0, "filled": true},
 "encoding": {"x": {"field": "x", "type": "quantitative"}, "y": {"field": "y", "type": "quantitative"},
  "shape": {"field": "s", "type": "nominal", "scale": {"domain": ["5 Seconds","10 Seconds","20 Seconds","30 Seconds","40 Seconds","100 Seconds"], "range": [
    "M-4.75,0H4.75M0,-1.35L1.35,0L0,1.35L-1.35,0Z",
    "M-4.75,0H4.75M1.2,0A1.2,1.2,0,1,1,-1.2,0A1.2,1.2,0,1,1,1.2,0Z",
    "M-4.75,0H4.75M0,-1.35L1.25,0.95L-1.25,0.95Z",
    "M-4.75,0H-1.1M1.1,0H4.75M-1.1,-1.1H1.1V1.1H-1.1Z",
    "M-4.75,0H-0.9M0.9,0H4.75M0,-1.35L1.25,0.95L-1.25,0.95Z",
    "M-4.75,0H-1.1M1.1,0H4.75M-1.1,-1.1H1.1V1.1H-1.1Z"]},
   "legend": {"orient": "none", "legendX": 363, "legendY": 88, "title": null, "padding": 4, "symbolSize": 16, "symbolStrokeWidth": 1.2, "symbolOpacity": 1, "symbolOffset": 32, "labelOffset": 3, "labelFontSize": 10, "labelColor": "#222222", "rowPadding": 6.4}},
  "stroke": {"field": "s", "type": "nominal", "scale": {"domain": ["5 Seconds","10 Seconds","20 Seconds","30 Seconds","40 Seconds","100 Seconds"], "range": ["#ff00ff","#ff0000","#000080","#00ffff","#993399","#9cc5d8"]}, "legend": {"orient": "none", "legendX": 363, "legendY": 88, "title": null, "padding": 4, "symbolSize": 16, "symbolStrokeWidth": 1.2, "symbolOpacity": 1, "symbolOffset": 32, "labelOffset": 3, "labelFontSize": 10, "labelColor": "#222222", "rowPadding": 6.4}},
  "fill": {"field": "s", "type": "nominal", "scale": {"domain": ["5 Seconds","10 Seconds","20 Seconds","30 Seconds","40 Seconds","100 Seconds"], "range": ["#ff00ff","#ff0000","#000080","#ffffff","#ffffff","#ffffff"]}, "legend": {"orient": "none", "legendX": 363, "legendY": 88, "title": null, "padding": 4, "symbolSize": 16, "symbolStrokeWidth": 1.2, "symbolOpacity": 1, "symbolOffset": 32, "labelOffset": 3, "labelFontSize": 10, "labelColor": "#222222", "rowPadding": 6.4}}
 }},
{"mark": {"type": "line", "strokeWidth": 2.5, "clip": true},
 "encoding": {
  "x": {"field": "x", "type": "quantitative", "scale": {"domain": [0, 7], "range": [8, 524], "nice": false, "zero": false},
        "axis": {"values": [0,1,2,3,4,5,6,7], "format": "d", "grid": false, "ticks": false, "title": "Location (m)", "titleFontSize": 10, "titlePadding": 11.5, "labelFontSize": 11, "labelPadding": 9.5, "domainColor": "#000000", "domainWidth": 2, "labelColor": "#222222", "titleColor": "#222222"}},
  "y": {"field": "y", "type": "quantitative", "scale": {"domain": [0, 2], "nice": false},
        "axis": {"values": [0,0.5,1,1.5,2], "format": ".1f", "grid": true, "gridColor": "#d9d9d9", "offset": -8, "title": "Depth (cm)", "titleFontSize": 10.5, "titlePadding": 9, "labelFontSize": 11, "labelPadding": 8, "tickSize": 4, "tickColor": "#000000", "domainColor": "#000000", "domainWidth": 2, "labelColor": "#222222", "titleColor": "#222222"}},
  "stroke": {"field": "s", "type": "nominal", "legend": null},
  "order": {"value": null}
 }},
{"transform": [{"filter": {"field": "s", "equal": "5 Seconds"}}],
 "mark": {"type": "point", "shape": "diamond", "size": 40, "strokeWidth": 1, "opacity": 1, "clip": true},
 "encoding": {"x": {"field": "x", "type": "quantitative"}, "y": {"field": "y", "type": "quantitative"},
  "stroke": {"field": "s", "type": "nominal", "legend": null}, "fill": {"field": "s", "type": "nominal", "legend": null}}},
{"transform": [{"filter": {"field": "s", "equal": "10 Seconds"}}],
 "mark": {"type": "point", "shape": "circle", "size": 36, "strokeWidth": 1, "opacity": 1, "clip": true},
 "encoding": {"x": {"field": "x", "type": "quantitative"}, "y": {"field": "y", "type": "quantitative"},
  "stroke": {"field": "s", "type": "nominal", "legend": null}, "fill": {"field": "s", "type": "nominal", "legend": null}}},
{"transform": [{"filter": {"field": "s", "equal": "20 Seconds"}}],
 "mark": {"type": "point", "shape": "triangle-up", "size": 40, "strokeWidth": 1, "opacity": 1, "clip": true},
 "encoding": {"x": {"field": "x", "type": "quantitative"}, "y": {"field": "y", "type": "quantitative"},
  "stroke": {"field": "s", "type": "nominal", "legend": null}, "fill": {"field": "s", "type": "nominal", "legend": null}}},
{"transform": [{"filter": {"field": "s", "equal": "30 Seconds"}}],
 "mark": {"type": "point", "shape": "square", "size": 30, "strokeWidth": 1.2, "opacity": 1, "clip": true},
 "encoding": {"x": {"field": "x", "type": "quantitative"}, "y": {"field": "y", "type": "quantitative"},
  "stroke": {"field": "s", "type": "nominal", "legend": null}, "fill": {"field": "s", "type": "nominal", "legend": null}}},
{"transform": [{"filter": {"field": "s", "equal": "40 Seconds"}}],
 "mark": {"type": "point", "shape": "triangle-up", "size": 40, "strokeWidth": 1.2, "opacity": 1, "clip": true},
 "encoding": {"x": {"field": "x", "type": "quantitative"}, "y": {"field": "y", "type": "quantitative"},
  "stroke": {"field": "s", "type": "nominal", "legend": null}, "fill": {"field": "s", "type": "nominal", "legend": null}}},
{"transform": [{"filter": {"field": "s", "equal": "100 Seconds"}}, {"filter": "datum.y < 1.99"}],
 "mark": {"type": "point", "shape": "square", "size": 34, "strokeWidth": 1.2, "opacity": 1, "clip": true},
 "encoding": {"x": {"field": "x", "type": "quantitative"}, "y": {"field": "y", "type": "quantitative"},
  "stroke": {"field": "s", "type": "nominal", "legend": null}, "fill": {"field": "s", "type": "nominal", "legend": null}}},
{"data": {"values": [{}]},
 "mark": {"type": "rule", "color": "#555555", "strokeWidth": 1},
 "encoding": {"x": {"datum": 0, "type": "quantitative"}, "x2": {"datum": 7}, "y": {"datum": 2, "type": "quantitative"}}},
{"data": {"values": [{}]},
 "mark": {"type": "rule", "color": "#555555", "strokeWidth": 1},
 "encoding": {"x": {"datum": 7, "type": "quantitative"}, "y": {"datum": 0, "type": "quantitative"}, "y2": {"datum": 2}}},
{"data": {"values": [{}]},
 "mark": {"type": "rect", "fill": "#ffffff", "stroke": "#808080", "strokeWidth": 1},
 "encoding": {"x": {"datum": 4.82, "type": "quantitative"}, "x2": {"datum": 6.66}, "y": {"datum": 1.47, "type": "quantitative"}, "y2": {"datum": 0.843}}},
{"data": {"values": [{}]},
 "mark": {"type": "rule", "color": "#000000", "strokeWidth": 1},
 "encoding": {"x": {"datum": 0.47, "type": "quantitative"}, "x2": {"datum": 1.07}, "y": {"datum": 1.61, "type": "quantitative"}}},
{"data": {"values": [{}]},
 "mark": {"type": "point", "shape": "triangle-left", "filled": true, "color": "#000000", "size": 16, "opacity": 1},
 "encoding": {"x": {"datum": 0.465, "type": "quantitative"}, "y": {"datum": 1.61, "type": "quantitative"}}},
{"data": {"values": [{}]},
 "mark": {"type": "text", "text": "Face of Weir", "align": "left", "baseline": "middle", "fontSize": 9.5, "color": "#222222"},
 "encoding": {"x": {"datum": 1.19, "type": "quantitative"}, "y": {"datum": 1.615, "type": "quantitative"}}}
]
},
{
"width": 517, "height": 319,
"view": {"stroke": "#a0a0a0", "strokeWidth": 1},
"title": {"text": "Total Melt Depth vs. Spreading Length (All Times)", "fontSize": 13, "color": "#222222", "baseline": "bottom", "offset": -15, "anchor": "middle", "frame": "group"},
"data": {"name": "bot"},
"layer": [
{"mark": {"type": "point", "opacity": 0, "filled": true},
 "encoding": {"x": {"field": "x", "type": "quantitative"}, "y": {"field": "y", "type": "quantitative", "axis": {"values": [0,0.2,0.4,0.6,0.8,1,1.2,1.4,1.6,1.8,2], "labelOverlap": false, "tickCount": 11}},
  "shape": {"field": "s", "type": "nominal", "scale": {"domain": ["t = 22.5 s","t = 27.5 s","t = 37.5 s","t = 47.55 s","t = 57.55 s","t = 117.55 s"], "range": [
    "M-10,0H10M1,0A1,1,0,1,1,-1,0A1,1,0,1,1,1,0Z",
    "M-10,0H10M1,0A1,1,0,1,1,-1,0A1,1,0,1,1,1,0Z",
    "M-10,0H10M1,0A1,1,0,1,1,-1,0A1,1,0,1,1,1,0Z",
    "M-10,0H10M1,0A1,1,0,1,1,-1,0A1,1,0,1,1,1,0Z",
    "M-10,0H10M1,0A1,1,0,1,1,-1,0A1,1,0,1,1,1,0Z",
    "M-10,0H10M1,0A1,1,0,1,1,-1,0A1,1,0,1,1,1,0Z"]},
   "legend": {"orient": "none", "legendX": 376, "legendY": 11.5, "title": null, "padding": 0, "symbolSize": 16, "symbolStrokeWidth": 1.5, "symbolOpacity": 1, "symbolOffset": 16, "labelOffset": 22, "labelFontSize": 12.5, "labelColor": "#262626", "rowPadding": 1.5}},
  "stroke": {"field": "s", "type": "nominal", "scale": {"domain": ["t = 22.5 s","t = 27.5 s","t = 37.5 s","t = 47.55 s","t = 57.55 s","t = 117.55 s"], "range": ["#0072bd","#d95319","#edb120","#7e2f8e","#77ac30","#4dbeee"]}, "legend": {"orient": "none", "legendX": 376, "legendY": 11.5, "title": null, "padding": 0, "symbolSize": 16, "symbolStrokeWidth": 1.5, "symbolOpacity": 1, "symbolOffset": 16, "labelOffset": 22, "labelFontSize": 12.5, "labelColor": "#262626", "rowPadding": 1.5}},
  "fill": {"field": "s", "type": "nominal", "scale": {"domain": ["t = 22.5 s","t = 27.5 s","t = 37.5 s","t = 47.55 s","t = 57.55 s","t = 117.55 s"], "range": ["#0072bd","#d95319","#edb120","#7e2f8e","#77ac30","#4dbeee"]}, "legend": {"orient": "none", "legendX": 376, "legendY": 11.5, "title": null, "padding": 0, "symbolSize": 16, "symbolStrokeWidth": 1.5, "symbolOpacity": 1, "symbolOffset": 16, "labelOffset": 22, "labelFontSize": 12.5, "labelColor": "#262626", "rowPadding": 1.5}}
 }},
{"mark": {"type": "line", "strokeWidth": 2.5, "clip": true},
 "encoding": {
  "x": {"field": "x", "type": "quantitative", "scale": {"domain": [0, 7], "nice": false, "zero": false},
        "axis": {"values": [0,1,2,3,4,5,6,7], "format": "d", "grid": true, "gridColor": "#e6e6e6", "domain": false, "ticks": true, "tickSize": -5, "tickColor": "#707070", "title": "Distance Along Spreading Length [m]", "titleFontSize": 13.5, "titlePadding": 3.5, "labelFontSize": 12.5, "labelPadding": 12.5, "labelColor": "#333333", "titleColor": "#222222"}},
  "y": {"field": "y", "type": "quantitative", "scale": {"domain": [0, 2], "nice": false},
        "axis": {"values": [0,0.2,0.4,0.6,0.8,1,1.2,1.4,1.6,1.8,2], "tickCount": 11, "labelOverlap": false, "format": "~g", "grid": true, "gridColor": "#e6e6e6", "domain": false, "ticks": true, "tickSize": -5, "tickColor": "#707070", "title": "Total Melt Depth [cm]", "titleFontSize": 13.5, "titlePadding": 6.5, "labelFontSize": 12.5, "labelPadding": 9.5, "labelColor": "#333333", "titleColor": "#222222"}},
  "stroke": {"field": "s", "type": "nominal", "legend": null},
  "order": {"value": null}
 }},
{"transform": [{"filter": "datum.y < 1.99"}],
 "mark": {"type": "point", "shape": "circle", "filled": true, "size": 16, "opacity": 1, "clip": true},
 "encoding": {"x": {"field": "x", "type": "quantitative"}, "y": {"field": "y", "type": "quantitative"},
  "fill": {"field": "s", "type": "nominal", "legend": null}}}
]
}
]
}
